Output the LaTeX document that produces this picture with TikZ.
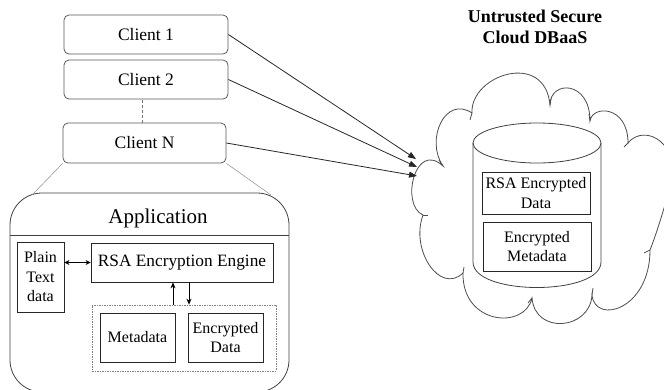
\documentclass[tikz,border=0pt]{standalone}
\usepackage{fontspec}
\setmainfont{Liberation Serif}
\usetikzlibrary{arrows.meta,calc}
\begin{document}
\begin{tikzpicture}[x=1pt,y=-1pt,
  client/.style={draw=black!65,line width=0.8pt,rounded corners=5pt,minimum width=164pt,minimum height=39pt,inner sep=0pt,font=\fontsize{17.5}{20}\selectfont},
  plainbox/.style={draw=black!85,line width=0.8pt,inner sep=0pt,align=center,font=\fontsize{16}{19.5}\selectfont},
  link/.style={draw=black!85,line width=0.8pt,-{Triangle[length=8pt,width=6pt]}},
  ghost/.style={draw=black!45,line width=0.5pt},
  cloudline/.style={draw=black!70,line width=0.8pt}]
\useasboundingbox (0,0) rectangle (664,389);
\clip (0,0) rectangle (664,389);

% clients
\node[client] (c1) at (146,34.5) {Client 1};
\node[client] (c2) at (146,79.5) {Client 2};
\node[client,minimum width=163pt,minimum height=40pt] (cN) at (144.5,143) {Client N};
\draw[black!55,line width=0.7pt,dashed,dash pattern=on 3pt off 2pt] (cN.north -| 142,0) -- (c2.south -| 142,0);

% application
\node[draw=black!75,line width=0.8pt,rounded corners=32pt,minimum width=279pt,minimum height=199pt,inner sep=0pt] (app) at (149.5,292.5) {};
\node[font=\fontsize{21}{24}\selectfont,inner sep=0pt] (apptitle) at (158,218) {Application};
\draw[black!75,line width=0.8pt] (app.west |- 0,235) -- (app.east |- 0,235);
\coordinate (gl) at (32,195);
\coordinate (gr) at (271,195);
\draw[ghost] (cN.south west) -- (gl);
\draw[ghost] (cN.south east) -- (gr);

\node[plainbox,minimum width=47pt,minimum height=70pt] (plain) at (40.5,277) {Plain\\Text\\data};
\node[plainbox,minimum width=182pt,minimum height=39pt,font=\fontsize{17.3}{20}\selectfont] (rsa) at (182,262.5) {RSA Encryption Engine};
\node[draw=black!50,line width=0.7pt,dash pattern=on 2pt off 1.2pt on 0.6pt off 1.2pt,minimum width=184pt,minimum height=66pt,inner sep=0pt] (dbox) at (184,338) {};
\node[plainbox,minimum width=75pt,minimum height=49pt] (meta) at (137.5,337.5) {Metadata};
\node[plainbox,minimum width=75pt,minimum height=49pt] (encd) at (225.5,337.5) {Encrypted\\Data};

\draw[black,line width=0.8pt,{Stealth[length=5pt,width=5pt]}-{Stealth[length=5pt,width=5pt]}] (plain.east |- rsa.west) -- (rsa.west);
\coordinate (ux) at (173,0);
\coordinate (dx) at (189,0);
\draw[black,line width=0.8pt,-{Stealth[length=6pt,width=5pt]}] (dbox.north -| ux) -- (rsa.south -| ux);
\draw[black,line width=0.8pt,-{Stealth[length=6pt,width=5pt]}] (rsa.south -| dx) -- (dbox.north -| dx);

% cloud
\node[font=\bfseries\fontsize{18}{21.5}\selectfont,align=center,inner sep=0pt] (title) at (535,27) {Untrusted Secure\\Cloud DBaaS};
\coordinate (J1) at (423,215);
\coordinate (J2) at (443,166);
\coordinate (J3) at (472,113);
\coordinate (J4) at (550,105);
\coordinate (J5) at (590,121);
\coordinate (J6) at (628,143);
\coordinate (J6b) at (675,170);
\coordinate (J7) at (650,250);
\coordinate (J8) at (592,295);
\coordinate (J9) at (532,298);
\coordinate (J10) at (463,273);
\draw[cloudline] (J1) .. controls (400,205) and (415,140) .. (J2)
  .. controls (425,140) and (445,95) .. (J3)
  .. controls (470,75) and (545,50) .. (J4)
  .. controls (550,80) and (590,80) .. (J5)
  .. controls (592,105) and (628,105) .. (J6)
  .. controls (640,128) and (668,133) .. (J6b)
  .. controls (672,180) and (660,225) .. (J7)
  .. controls (650,310) and (595,325) .. (J8)
  .. controls (590,330) and (535,335) .. (J9)
  .. controls (525,330) and (462,325) .. (J10)
  .. controls (440,295) and (410,250) .. cycle;
% small tails of the cloud lobes
\draw[cloudline] (J2) -- ++(-4,-6);
\draw[cloudline] (J3) -- ++(-2,7);
\draw[cloudline] (J4) -- ++(1,-6);
\draw[cloudline] (J5) -- ++(-1,-7);
\draw[cloudline] (J6) -- ++(-4,4);
\draw[cloudline] (J7) -- ++(-6,3);
\draw[cloudline] (J8) -- ++(1,-7);
\draw[cloudline] (J9) -- ++(-4,5);
\draw[cloudline] (J10) -- ++(1,-6);
\draw[cloudline] (J1) -- ++(5,0);

% database cylinder
\coordinate (dbtop) at (537,143);
\draw[black!75,line width=0.8pt] (dbtop) ellipse [x radius=64pt,y radius=20pt];
\draw[black!75,line width=0.8pt] (473,143) -- (473,262) .. controls (473,296) and (601,296) .. (601,262) -- (601,143);
\node[plainbox,minimum width=108pt,minimum height=42pt] (rsad) at (536,193) {RSA Encrypted\\Data};
\node[plainbox,minimum width=108pt,minimum height=49pt] (encm) at (537,246.5) {Encrypted\\Metadata};

% arrows to the cloud
\coordinate (t1) at (416,159);
\coordinate (t2) at (417,167);
\coordinate (t3) at (417,176);
\draw[link] (c1.east) -- (t1);
\draw[link] (c2.east) -- (t2);
\draw[link] (cN.east) -- (t3);
\end{tikzpicture}
\end{document}
